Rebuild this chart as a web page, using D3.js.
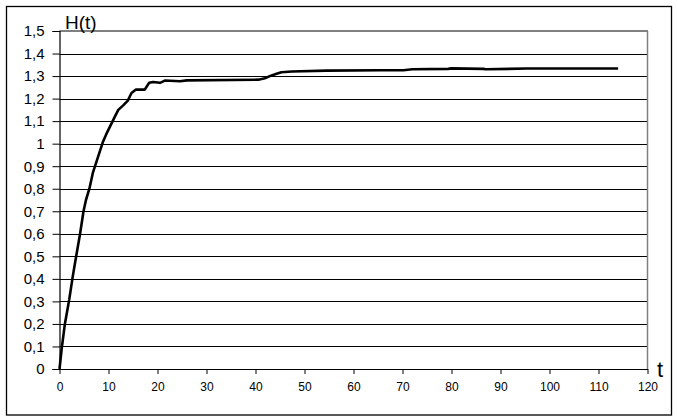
<!DOCTYPE html>
<html>
<head>
<meta charset="utf-8">
<script src="https://cdn.jsdelivr.net/npm/d3@7"></script>
<style>
  html, body { margin: 0; padding: 0; background: #fff; }
  svg { display: block; }
  text { font-family: "Liberation Sans", Arial, sans-serif; fill: #000; }
</style>
</head>
<body>
<svg id="chart" width="678" height="420"></svg>
<script>
// ---- data ----
const tValues = [0, 0.45, 1.1, 2.0, 2.7, 3.4, 4.2, 4.9, 5.4, 6.1, 6.8, 7.4, 8.3, 8.9, 9.5, 10.4, 11.3, 12.0, 13.0, 13.9, 14.7, 15.6, 17.4, 18.3, 19.1, 20.5, 21.5, 24.6, 26, 40.6, 41.9, 43.3, 44.3, 45.3, 47.4, 54.5, 65.4, 70.2, 72, 79.3, 80, 86.5, 87, 95.3, 114];
const hValues = [0, 0.09, 0.2, 0.31, 0.41, 0.5, 0.6, 0.7, 0.75, 0.8, 0.87, 0.91, 0.97, 1.01, 1.04, 1.08, 1.12, 1.15, 1.17, 1.19, 1.225, 1.24, 1.24, 1.27, 1.274, 1.27, 1.28, 1.277, 1.281, 1.284, 1.29, 1.303, 1.31, 1.317, 1.32, 1.324, 1.326, 1.326, 1.33, 1.332, 1.334, 1.332, 1.33, 1.3335, 1.3335];
const xTicks = [0, 10, 20, 30, 40, 50, 60, 70, 80, 90, 100, 110, 120];
const yTicks = [0, 0.1, 0.2, 0.3, 0.4, 0.5, 0.6, 0.7, 0.8, 0.9, 1, 1.1, 1.2, 1.3, 1.4, 1.5];
const yTitle = "H(t)";
const xTitle = "t";

// ---- drawing ----
(function () {
const svg = d3.select("#chart");
const pLeft = 59.5, pRight = 647.5, pTop = 31, pBottom = 369;

svg.append("rect").attr("x", 6.5).attr("y", 6.5).attr("width", 665).attr("height", 408.5)
  .attr("fill", "#fff").attr("stroke", "#000").attr("stroke-width", 1.3);

const x = d3.scaleLinear().domain([0, 120]).range([pLeft, pRight]);
const y = d3.scaleLinear().domain([0, 1.5]).range([pBottom, pTop]);

const fmt = v => (Math.round(v * 10) / 10).toString().replace(".", ",");

// gridlines
svg.append("g").selectAll("line").data(yTicks.filter(v => v > 0 && v < 1.5)).join("line")
  .attr("x1", pLeft).attr("x2", pRight)
  .attr("y1", d => Math.round(y(d)) + 0.5).attr("y2", d => Math.round(y(d)) + 0.5)
  .attr("stroke", "#000").attr("stroke-width", 1);

// top & right border (gray)
svg.append("line").attr("x1", pLeft).attr("x2", pRight + 0.5).attr("y1", pTop).attr("y2", pTop)
  .attr("stroke", "#808080").attr("stroke-width", 2);
svg.append("line").attr("x1", pRight).attr("x2", pRight).attr("y1", pTop).attr("y2", pBottom)
  .attr("stroke", "#808080").attr("stroke-width", 1.5);

// y axis
const yAxis = d3.axisLeft(y).tickValues(yTicks).tickFormat(fmt).tickSize(7).tickPadding(8);
const gy = svg.append("g").attr("transform", `translate(${pLeft},0)`).call(yAxis);
gy.select(".domain").attr("stroke", "#000").attr("stroke-width", 1.2);
gy.selectAll(".tick line").attr("stroke", "#000");
gy.selectAll(".tick text").style("font-size", "15px").style("font-family", '"Liberation Sans", Arial, sans-serif')
  .attr("fill", "#000");

// x axis
const xAxis = d3.axisBottom(x).tickValues(xTicks).tickFormat(d3.format("d")).tickSize(5).tickPadding(8).tickSizeOuter(0);
const gx = svg.append("g").attr("transform", `translate(0,${pBottom})`).call(xAxis);
gx.select(".domain").attr("stroke", "#000").attr("stroke-width", 1.2);
gx.selectAll(".tick line").attr("stroke", "#000");
gx.selectAll(".tick text").style("font-size", "12px").style("font-family", '"Liberation Sans", Arial, sans-serif')
  .attr("fill", "#000");

// curve
const pts = tValues.map((t, i) => [t, hValues[i]]);
svg.append("path").datum(pts)
  .attr("fill", "none").attr("stroke", "#000").attr("stroke-width", 2.6)
  .attr("stroke-linejoin", "round")
  .attr("d", d3.line().x(d => x(d[0])).y(d => y(d[1])));

// titles
svg.append("text").attr("x", 65).attr("y", 29).style("font-size", "19px").text(yTitle);
svg.append("text").attr("x", 657).attr("y", 377).style("font-size", "22px").text(xTitle);
})();
</script>
</body>
</html>
